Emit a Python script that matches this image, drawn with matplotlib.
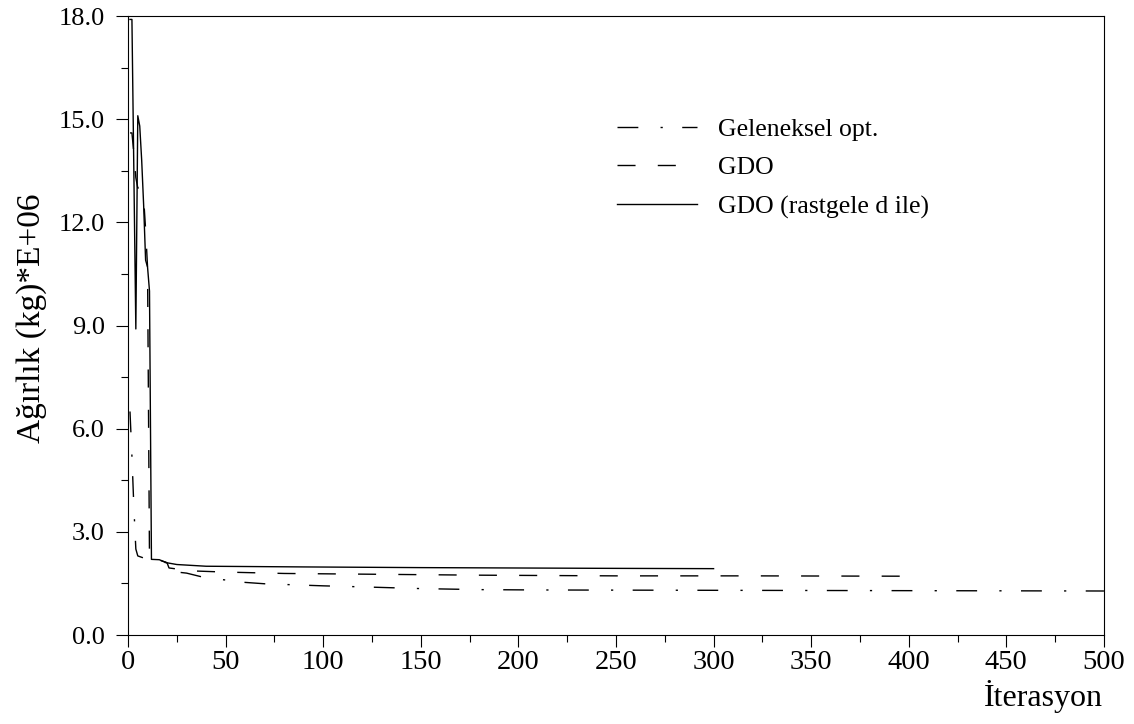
import matplotlib
matplotlib.use("Agg")
import matplotlib.pyplot as plt
from matplotlib.ticker import MultipleLocator, FormatStrFormatter

plt.rcParams['font.family'] = ['Liberation Serif', 'DejaVu Serif']

# Geleneksel opt. (dash-dot)
x_gel = [1, 2, 3, 4, 5, 10, 20, 22, 30, 40, 50, 60, 70, 85, 100, 120, 150, 180, 210, 300, 400, 500]
y_gel = [6.5, 5.2, 3.7, 2.5, 2.3, 2.2, 2.1, 1.85, 1.80, 1.66, 1.60, 1.53, 1.49, 1.46, 1.43, 1.40,
         1.35, 1.32, 1.31, 1.30, 1.29, 1.28]

# GDO (dashed)
x_gdo = [1, 2, 3, 4, 5, 6, 8, 9, 10, 11, 15, 20, 21, 25, 35, 50, 80, 120, 180, 250, 320, 400]
y_gdo = [14.6, 14.6, 14.0, 13.3, 13.0, 13.0, 12.7, 11.8, 10.7, 2.2, 2.2, 2.1, 1.95, 1.92, 1.86,
         1.83, 1.79, 1.77, 1.74, 1.72, 1.72, 1.71]

# GDO (rastgele d ile) (solid)
x_rnd = [1, 2, 4, 5, 6, 7, 8, 9, 10, 11, 12, 16, 20, 25, 40, 90, 150, 240, 300]
y_rnd = [17.9, 17.9, 8.9, 15.1, 14.8, 13.8, 12.5, 10.9, 10.7, 10.0, 2.2, 2.19, 2.1, 2.05, 2.0,
         1.98, 1.96, 1.94, 1.93]

labels = ["Geleneksel opt.", "GDO", "GDO (rastgele d ile)"]


def main():
	fig = plt.figure(figsize=(11.34, 7.24), dpi=100)
	ax = fig.add_axes([0.1129, 0.1229, 0.8606, 0.855])

	ax.plot(x_gel, y_gel, color='black', lw=1.0, linestyle=(0, (15, 16, 1.6, 14)), label=labels[0])
	ax.plot(x_gdo, y_gdo, color='black', lw=1.0, linestyle=(0, (13, 16)), label=labels[1])
	ax.plot(x_rnd, y_rnd, color='black', lw=1.0, linestyle='-', label=labels[2])

	ax.set_xlim(0, 500)
	ax.set_ylim(0, 18)
	ax.xaxis.set_major_locator(MultipleLocator(50))
	ax.xaxis.set_minor_locator(MultipleLocator(25))
	ax.yaxis.set_major_locator(MultipleLocator(3))
	ax.yaxis.set_minor_locator(MultipleLocator(1.5))
	ax.yaxis.set_major_formatter(FormatStrFormatter('%.1f'))

	ax.tick_params(axis='x', which='major', direction='out', length=8.6, width=0.8, labelsize=20.5, pad=2)
	ax.tick_params(axis='x', which='minor', direction='out', length=5, width=0.8)
	ax.tick_params(axis='y', which='major', direction='out', length=8.6, width=0.8, labelsize=19, pad=8)
	ax.tick_params(axis='y', which='minor', direction='out', length=5, width=0.8)
	for sp in ax.spines.values():
		sp.set_linewidth(0.8)

	ax.set_ylabel("Ağırlık (kg)*E+06", fontsize=24)
	ax.yaxis.set_label_coords(-0.083, 0.512)
	ax.set_xlabel("İterasyon", fontsize=23, ha='right', va='top')
	ax.xaxis.set_label_coords(0.999, -0.072)

	ax.legend(loc='upper left', bbox_to_anchor=(0.501, 0.836), frameon=False, fontsize=18.5,
		handlelength=3.1, handletextpad=0.85, labelspacing=0.62, borderpad=0, borderaxespad=0)

	fig.savefig("out.png", dpi=100)


if __name__ == "__main__":
	main()
